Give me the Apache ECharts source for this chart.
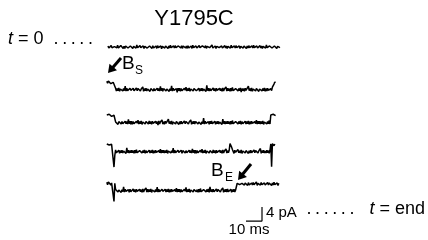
<!DOCTYPE html>
<html><head><meta charset="utf-8">
<script src="https://cdn.jsdelivr.net/npm/echarts@6/dist/echarts.min.js"></script>
<style>html,body{margin:0;padding:0;background:#fff}#c{width:428px;height:240px}</style>
</head><body><div id="c"></div>
<script>
// ---- data: current (pA) relative to each sweep's closed level, one sample every 0.5 ms ----
const sampleMs = 0.5;
const sweepNames = ['sweep1','sweep2','sweep3','sweep4','sweep5'];
const sweep1 = [
 0.3,-0.3,0.2,-0.4,0.4,-0.2,0.3,-0.3,0.1,-0.4,0.3,-0.2,0.5,-0.3,0.2,-0.3,0.4,-0.1,0.2,-0.4,
 0.2,-0.4,0.3,-0.2,0.4,-0.3,0.1,-0.3,0.3,-0.2,0.4,-0.4,0.2,-0.1,0.3,-0.3,0.6,-0.2,0.3,-0.4,
 0.4,-0.2,0.2,-0.3,0.3,-0.4,0.2,-0.2,0.5,-0.3,0.1,-0.3,0.3,-0.2,0.2,-0.4,0.4,-0.3,0.2,-0.2,
 0.3,-0.4,0.4,-0.2,0.2,-0.3,0.3,-0.5,0.2,-0.2,0.4,-0.3,0.3,-0.2,0.1,-0.4,0.3,-0.3,0.5,-0.2,
 0.2,-0.3,0.3,-0.3,0.4,-0.2,0.2,-0.4,0.3,-0.1,0.2,-0.3,0.4,-0.4,0.3,-0.2,0.2,-0.3,0.3,-0.4,
 0.4,-0.3,0.2,-0.2,0.3,-0.4,0.5,-0.2,0.2,-0.3,0.3,-0.3,0.2,-0.4,0.4,-0.2,0.1,-0.3,0.3,-0.2,
 0.3,-0.2,0.4,-0.4,0.2,-0.3,0.3,-0.2,0.2,-0.4,0.6,-0.3,0.2,-0.2,0.3,-0.4,0.2,-0.3,0.4,-0.2,
 0.2,-0.4,0.3,-0.3,0.2,-0.2,0.4,-0.3,0.3,-0.4,0.2,-0.2,0.3,-0.3,0.5,-0.2,0.2,-0.4,0.3,-0.3,
 0.4,-0.2,0.2,-0.3,0.3,-0.4,0.2,-0.2,0.4,-0.3,0.3,-0.2,0.2,-0.4,0.3,-0.3,0.4,-0.2,0.2,-0.3,
 0.3,-0.3,0.5,-0.2,0.2,-0.4,0.3,-0.3,0.2,-0.2,0.4,-0.3,0.3,-0.4,0.2,-0.2,0.3,-0.3,0.6,-0.2,
 0.2,-0.4,0.3,-0.2,0.4,-0.3,0.2,-0.3,0.3,-0.2,0.5,-0.4,0.2,-0.3,0.3,-0.2];
const sweep2 = [
 0.5,-0.1,0.6,0.1,0.4,-0.2,0.3,-0.3,0.2,-0.2,0.1,
 -1.5,-2.3,-1.6,-2.2,-1.4,-2.4,-1.7,-2.1,-1.5,-2.3,-1.6,-2.2,-0.9,-2.3,-1.5,-2.2,-1.7,-2.4,-1.5,-2.1,
 -1.6,-2.3,-1.5,-2.2,-1.7,-2.4,-1.4,-2.2,-1.6,-2.1,-1.5,-2.3,-1.7,-2.2,-1.1,-2.4,-1.6,-2.2,-1.5,-2.3,
 -1.7,-2.2,-1.5,-2.4,-1.6,-2.1,-1.4,-2.3,-1.6,-2.2,-1.7,-2.4,-1.5,-2.2,-1.6,-2.3,-1.0,-2.2,-1.5,-2.4,
 -1.6,-2.1,-1.5,-2.3,-1.7,-2.2,-1.4,-2.4,-1.6,-2.2,-0.8,-2.3,-1.5,-2.1,-1.7,-2.3,-1.6,-2.7,-1.5,-2.2,
 -1.5,-2.4,-1.6,-2.2,-1.7,-2.3,-1.5,-2.1,-1.2,-2.3,-1.6,-2.2,-1.4,-2.4,-1.7,-2.2,-1.5,-2.3,-1.6,-2.1,
 -1.4,-2.2,-1.7,-2.3,-1.5,-2.4,-1.6,-2.2,-1.5,-2.3,-1.7,-2.1,-1.6,-2.4,-0.7,-2.2,-1.5,-2.3,-1.6,-2.2,
 -1.7,-2.3,-1.4,-2.2,-1.6,-2.4,-1.5,-2.1,-1.7,-2.3,-1.5,-2.2,-1.6,-2.4,-1.4,-2.3,-1.7,-2.1,-1.1,-2.3,
 -1.5,-2.2,-1.6,-2.4,-1.5,-2.3,-1.3,-2.2,-1.7,-2.4,-1.6,-2.1,-1.5,-2.3,-1.6,-2.2,-1.4,-2.6,-1.6,-2.2,
 -1.6,-2.4,-1.5,-2.1,-1.7,-2.3,-0.9,-2.2,-1.6,-2.3,-1.4,-2.4,-1.7,-2.2,-1.5,-2.3,-1.6,-2.1,-1.5,-2.4,
 -1.7,-2.2,-1.5,-2.3,-1.6,-2.2,-1.4,-2.4,-1.6,-2.3,-1.5,-2.1,-1.7,-2.4,-1.6,-2.2,-1.2,
 -1.0,-0.3,0.3,0.1];
const sweep3 = [
 0.3,0.6,0.2,0.5,0.1,0.4,-0.1,0.3,-0.2,0.2,0.0,
 -1.7,-2.2,-1.5,-2.4,-1.6,-2.1,-1.4,-2.3,-1.6,-2.2,-1.7,-2.4,-1.5,-2.2,-1.6,-2.3,-1.0,-2.2,-1.5,-2.4,
 -1.5,-2.4,-1.6,-2.2,-1.7,-2.3,-1.5,-2.1,-1.2,-2.3,-1.6,-2.2,-1.4,-2.4,-1.7,-2.2,-1.5,-2.3,-1.6,-2.1,
 -1.7,-2.3,-1.4,-2.2,-1.6,-2.4,-1.5,-2.1,-1.7,-2.3,-1.5,-2.2,-1.6,-2.6,-1.4,-2.3,-1.7,-2.1,-1.1,-2.3,
 -1.6,-2.4,-1.5,-2.1,-1.7,-2.3,-0.9,-2.2,-1.6,-2.3,-1.4,-2.4,-1.7,-2.2,-1.5,-2.3,-1.6,-2.1,-1.5,-2.4,
 -1.6,-2.3,-1.5,-2.2,-1.7,-2.4,-1.4,-2.2,-1.6,-2.1,-1.5,-2.3,-1.7,-2.2,-1.1,-2.4,-1.6,-2.2,-1.5,-2.3,
 -1.6,-2.1,-1.5,-2.3,-1.7,-2.2,-1.4,-2.4,-1.6,-2.2,-0.6,-2.3,-1.5,-2.1,-1.7,-2.3,-1.6,-2.4,-1.5,-2.2,
 -1.4,-2.2,-1.7,-2.3,-1.5,-2.4,-1.6,-2.2,-1.5,-2.3,-1.7,-2.1,-1.6,-2.4,-0.9,-2.2,-1.5,-2.3,-1.6,-2.2,
 -1.5,-2.2,-1.6,-2.4,-1.5,-2.3,-1.3,-2.2,-1.7,-2.7,-1.6,-2.1,-1.5,-2.3,-1.6,-2.2,-1.4,-2.4,-1.6,-2.2,
 -1.7,-2.2,-1.5,-2.3,-1.6,-2.2,-1.4,-2.4,-1.6,-2.3,-1.5,-2.1,-1.7,-2.4,-1.6,-2.2,-1.2,-2.3,-1.5,-2.2,
 -1.5,-2.3,-1.6,-2.2,-1.4,-2.4,-1.7,-2.1,-1.5,-2.3,-1.6,-2.2,-1.3,-2.3,
 0.3,0.6,0.1,0.5,0.2,0.4,0.1];
const sweep4 = [
 0.3,-0.2,0.4,0.0,0.3,-0.3,0.2,-0.1,0.3,-6.3,-3.0,
 -1.4,-2.2,-1.7,-2.3,-1.5,-2.4,-1.6,-2.2,-1.5,-2.3,-1.7,-2.1,-1.6,-2.4,-0.8,-2.2,-1.5,-2.3,-1.6,-2.2,
 -1.5,-2.2,-1.6,-2.4,-1.5,-2.3,-1.3,-2.2,-1.7,-2.4,-1.6,-2.1,-1.5,-2.3,-1.6,-2.2,-1.4,-2.4,-1.6,-2.2,
 -1.7,-2.2,-1.5,-2.3,-1.6,-2.2,-1.4,-2.4,-1.6,-2.3,-1.5,-2.1,-1.7,-2.4,-1.6,-2.2,-1.2,-2.3,-1.5,-2.2,
 -1.5,-2.3,-1.6,-2.2,-1.4,-2.4,-1.7,-2.1,-1.5,-2.3,-1.6,-2.2,-0.9,-2.3,-1.5,-2.2,-1.7,-2.4,-1.5,-2.1,
 -1.7,-2.2,-1.5,-2.4,-1.6,-2.1,-1.4,-2.3,-1.6,-2.2,-1.7,-2.6,-1.5,-2.2,-1.6,-2.3,-1.1,-2.2,-1.5,-2.4,
 -1.5,-2.4,-1.6,-2.2,-1.7,-2.3,-1.5,-2.1,-1.2,-2.3,-1.6,-2.2,-1.4,-2.4,-1.7,-2.2,-1.5,-2.3,-1.6,-2.1,
 -1.7,-2.3,-1.4,-2.2,-1.6,-2.4,-1.5,-2.1,-1.7,-2.3,-1.5,-2.2,-1.6,-2.4,-1.4,-2.3,-1.7,-2.1,-1.1,-2.3,
 -1.6,-2.2,-1.5,
 0.4,0.6,-0.6,-1.3,
 -1.6,-2.4,-1.5,-2.1,-1.7,-2.3,-1.3,-2.2,-1.6,-2.3,-1.4,-2.4,-1.7,-2.2,-1.5,-2.3,-1.6,-2.1,-1.5,-2.4,
 -1.6,-2.3,-1.5,-2.2,-1.7,-2.4,-1.4,-2.2,-1.6,-2.1,-1.5,-2.3,-1.7,-2.2,-1.0,-2.4,-1.6,-2.2,-1.5,-2.3,
 -1.7,-2.3,-1.5,-2.2,-1.6,-2.4,-1.5,
 0.3,-6.2,0.4,0.2,-0.2,0.3,0.0];
const sweep5 = [
 0.5,-0.2,0.6,0.1,0.4,-0.3,0.3,0.6,-0.1,-5.0,0.2,
 -1.6,-2.1,-1.5,-2.3,-1.7,-2.2,-1.4,-2.4,-1.6,-2.2,-0.8,-2.3,-1.5,-2.1,-1.7,-2.3,-1.6,-2.4,-1.5,-2.2,
 -1.7,-2.3,-1.4,-2.2,-1.6,-2.4,-1.5,-2.1,-1.7,-2.3,-1.5,-2.2,-1.6,-2.4,-1.4,-2.3,-1.7,-2.1,-1.1,-2.3,
 -1.5,-2.3,-1.6,-2.2,-1.4,-2.4,-1.7,-2.1,-1.5,-2.3,-1.6,-2.2,-0.9,-2.3,-1.5,-2.2,-1.7,-2.4,-1.5,-2.1,
 -1.7,-2.2,-1.5,-2.3,-1.6,-2.2,-1.4,-2.4,-1.6,-2.3,-1.5,-2.1,-1.7,-2.4,-1.6,-2.2,-1.2,-2.3,-1.5,-2.2,
 -1.5,-2.4,-1.6,-2.2,-1.7,-2.3,-1.5,-2.1,-1.0,-2.3,-1.6,-2.2,-1.4,-2.4,-1.7,-2.2,-1.5,-2.3,-1.6,-2.1,
 -1.5,-2.2,-1.6,-2.4,-1.5,-2.3,-1.3,-2.2,-1.7,-2.4,-1.6,-2.1,-1.5,-2.3,-1.6,-2.2,-1.4,-2.4,-0.8,-2.2,
 -1.6,-2.3,-1.5,-2.2,-1.7,-2.4,-1.4,-2.2,-1.6,-2.1,-1.5,-2.3,-1.7,-2.2,-1.1,-2.4,-1.6,-2.2,-1.5,-2.3,
 -1.4,-2.2,-1.7,-2.3,-1.5,-2.4,-1.6,-2.2,-1.5,-2.3,-1.7,-2.1,
 0.2,-0.3,0.4,-0.2,0.3,-0.4,0.2,-0.2,0.5,-0.3,0.3,-0.2,0.2,-0.4,0.4,-0.3,0.2,-0.2,0.3,-0.3,
 0.4,-0.2,0.2,-0.3,0.6,-0.4,0.2,-0.2,0.3,-0.3,0.4,-0.2,0.2,-0.4,0.3,-0.3,0.2,-0.2,0.4,-0.3,
 0.3,-0.2,0.2,-0.4,0.3,-0.3,0.5,-0.2,0.2,-0.3,0.3,-0.4,0.2];
const scaleBarMs = 10;
const scaleBarPA = 4;
const titleText = 'Y1795C';

// ---- layout (display only) ----
const sweepStartMs = [1.25, 0.5, 0.5, 0.5, 0.5];
const sweepOffsetPA = [-4.86, -15.14, -24.57, -32.86, -44.0];
const scaleBarOrigin = [87.5, -54.6];
const FONT = '"Liberation Sans", Arial, Helvetica, sans-serif';
const TS = '\u2009';

const sweeps = [sweep1, sweep2, sweep3, sweep4, sweep5];
const series = sweeps.map((vals, k) => ({
  name: sweepNames[k], type: 'line', showSymbol: false, silent: true,
  lineStyle: { color: '#000', width: 1.5 },
  data: vals.map((v, i) => [sweepStartMs[k] + i * sampleMs, +(v + sweepOffsetPA[k]).toFixed(2)])
}));
series.push({
  name: 'scale', type: 'line', showSymbol: false, silent: true,
  lineStyle: { color: '#000', width: 1.2 },
  data: [[scaleBarOrigin[0], scaleBarOrigin[1]],
         [scaleBarOrigin[0] + scaleBarMs, scaleBarOrigin[1]],
         [scaleBarOrigin[0] + scaleBarMs, scaleBarOrigin[1] + scaleBarPA]]
});

function arrow(tail, tip) {
  const dx = tip[0] - tail[0], dy = tip[1] - tail[1];
  const L = Math.hypot(dx, dy), ux = dx / L, uy = dy / L;
  const hl = 8, hw = 5;
  const bx = tip[0] - ux * hl, by = tip[1] - uy * hl;
  return [
    { type: 'line', shape: { x1: tail[0], y1: tail[1], x2: bx + ux, y2: by + uy }, style: { stroke: '#000', lineWidth: 3 } },
    { type: 'polygon', shape: { points: [[tip[0], tip[1]], [bx - uy * hw, by + ux * hw], [bx + uy * hw, by - ux * hw]] }, style: { fill: '#000' } }
  ];
}
function txt(x, y, text, size, align) {
  return { type: 'text', x: x, y: y, style: { text: text, fontSize: size, fontFamily: FONT, fill: '#000', align: align || 'left', verticalAlign: 'middle' } };
}
const dots5 = ['.', '.', '.', '.', '.'].join(TS);
const dots6 = ['.', '.', '.', '.', '.', '.'].join(TS);
const richT = { i: { fontSize: 18, fontStyle: 'italic', fontFamily: FONT }, n: { fontSize: 18, fontFamily: FONT } };

const graphic = [
  txt(194, 19, titleText, 22, 'center'),
  { type: 'text', x: 8, y: 39, style: { text: '{i|t}{n| = 0  ' + dots5 + '}', fontFamily: FONT, fill: '#000', verticalAlign: 'middle', rich: richT } },
  { type: 'text', x: 425, y: 209, style: { text: '{n|' + dots6 + '   }{i|t}{n| = end}', fontFamily: FONT, fill: '#000', align: 'right', verticalAlign: 'middle', rich: richT } },
  txt(122, 64, 'B', 19), txt(135, 71, 'S', 12),
  txt(211, 171, 'B', 19), txt(225, 178, 'E', 12),
  txt(266, 213, '4 pA', 15),
  txt(249, 230, '10 ms', 15, 'center')
].concat(arrow([121, 58], [108, 73])).concat(arrow([251, 164], [238, 180]));

const chart = echarts.init(document.getElementById('c'), null, { renderer: 'canvas' });
chart.setOption({
  animation: false,
  backgroundColor: '#fff',
  grid: { left: 106, top: 30, width: 192, height: 196, containLabel: false },
  xAxis: { type: 'value', min: 0, max: 120, show: false },
  yAxis: { type: 'value', min: -56, max: 0, show: false },
  series: series,
  graphic: graphic
});
</script></body></html>
